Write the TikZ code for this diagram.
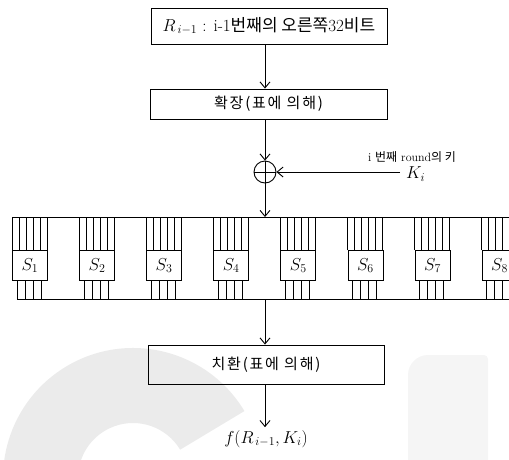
\documentclass[tikz,border=0pt]{standalone}
\usepackage{fontspec}
\newfontfamily\kr{Noto Sans CJK KR}
\newfontfamily\krs[LetterSpace=12]{Noto Sans CJK KR}
\usetikzlibrary{arrows.meta,calc}
\newcommand\ko[1]{{\kr #1}}
\newcommand\kos[1]{{\krs #1}}
\begin{document}
\begin{tikzpicture}[x=1pt,y=-1pt,
  box/.style={draw, line width=0.9pt, inner sep=0pt},
  sbox/.style={draw, line width=0.8pt, minimum width=35pt, minimum height=30pt, inner sep=0pt, fill=white, font=\fontsize{18}{20}\selectfont},
  arr/.style={line width=0.9pt, -{Straight Barb[length=6pt,width=10pt,line width=0.9pt]}},
  wire/.style={line width=0.8pt}]
\useasboundingbox (0,0) rectangle (509,459);
% watermark
\begin{scope}
\clip (0,0) rectangle (509,459);
\fill[gray!16] (133,478) ++(-31:130) arc[start angle=-31,end angle=-200,radius=130]
  -- ($(133,478)+(-200:55)$) arc[start angle=-200,end angle=-31,radius=55] -- cycle;
\fill[gray!8] (408,470) [rounded corners=20pt] -- (408,355) [rounded corners=4pt] -- (488,355) [sharp corners] -- (488,470) -- cycle;
\end{scope}

\node[box, minimum width=236pt, minimum height=36pt] (top) at (269,26)
  {\fontsize{17}{20}\selectfont $R_{\,i-1}$ : i-1\ko{번째의 오른쪽}32\ko{비트}};
\node[box, minimum width=237pt, minimum height=30pt] (exp) at (268.5,104)
  {\fontsize{15}{17}\selectfont \kos{확장(표에 의해)}};
\node[draw, circle, line width=0.9pt, minimum size=22pt, inner sep=0pt] (xor) at (265,172) {};
\draw[line width=0.9pt] (xor.north) -- (xor.south) (xor.west) -- (xor.east);

\coordinate (kin) at (400,172);
\draw[arr] (kin) -- (xor.east);
\node[anchor=west, font=\fontsize{17}{19}\selectfont, inner sep=0pt] (k) at (406,174) {$K_i$};
\node[font=\fontsize{12}{14}\selectfont, inner sep=0pt] (klab) at (412,157) {i \ko{번째} round\ko{의 키}};

\draw[arr] (top.south -| xor) -- (exp.north -| xor);
\draw[arr] (exp.south -| xor) -- (xor.north);

\coordinate (tL) at (12,217); \coordinate (tR) at (509,217);
\coordinate (bL) at (17,299); \coordinate (bR) at (509,299);
\draw[wire] (tL) -- (tR);
\draw[wire] (bL) -- (bR);
\draw[arr] (xor.south) -- (xor.south |- tL);

\foreach \i in {1,...,8} {
  \pgfmathsetmacro\L{12+(\i-1)*67.1}
  \node[sbox, anchor=north west] (s\i) at (\L,250) {$S_{\i}$};
  \foreach \k in {0,...,5} \draw[wire] ($(s\i.north west)+(\k*7,0)$) -- ++(0,-33);
  \foreach \k in {0,...,3} \draw[wire] ($(s\i.south west)+(5+\k*8,0)$) -- ++(0,19);
}

\node[box, minimum width=236pt, minimum height=39pt] (perm) at (266,364.5)
  {\fontsize{15}{17}\selectfont \kos{치환(표에 의해)}};
\draw[arr] (xor |- bL) -- (perm.north -| xor);
\node[font=\fontsize{17}{20}\selectfont, inner sep=0pt] (out) at (266,439) {$f(R_{\,i-1},K_i)$};
\draw[arr] (perm.south -| xor) -- ($(out.north -| xor)+(0,-3)$);
\end{tikzpicture}
\end{document}
